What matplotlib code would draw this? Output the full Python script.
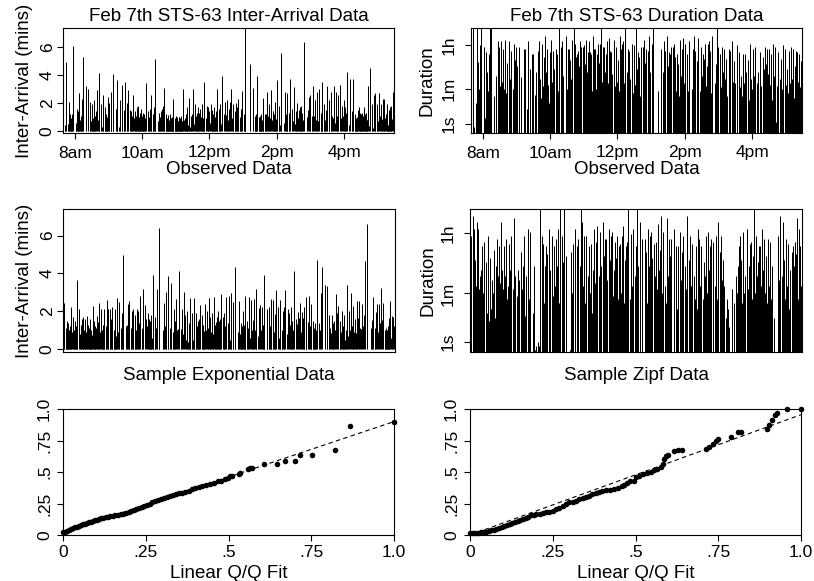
import numpy as np
import matplotlib
matplotlib.use("Agg")
import matplotlib.pyplot as plt

plt.rcParams['font.family'] = ['Liberation Sans', 'DejaVu Sans']

# ---------------- data ----------------
# Observed inter-arrival times (minutes), in arrival order
obs_interarrival = [
    3.5, 0.3, 0.4,
    4.95, 0.5, 0.45,
    2.1, 0.4, 1.2, 0.2, 0.9, 0.6, 1.2,
    6.1, 0.6, 0.4,
    1.6, 0.2, 1.4, 0.5, 0.3, 2.7, 0.8, 0.4, 1.1, 0.6, 2.3,
    5.3,
    3.2,
    3.0, 0.4,
    2.1, 0.7, 0.3, 1.9, 0.5, 0.9, 0.2, 2.2, 0.6, 1.1, 1.4,
    2.95, 0.8, 0.45,
    4.15, 1.9, 0.3, 1.35,
    2.6, 0.5, 1.7, 0.4, 1.2, 0.3, 1.0,
    2.45, 0.6, 2.0, 0.95,
    2.8, 0.9, 0.5,
    4.1, 1.6, 0.2, 1.2,
    3.65, 0.3, 1.3, 2.2, 0.25,
    3.3, 1.5, 1.2,
    3.5, 0.4, 2.0,
    2.95, 1.5, 0.6, 1.4, 0.3, 1.05,
    2.6, 0.9, 1.4, 0.2, 1.1, 0.9,
    1.75, 0.3, 1.8, 0.6, 1.0, 0.55,
    1.3, 1.6, 0.4, 1.1, 0.9, 0.2, 1.3, 0.7, 1.2, 0.5, 0.9,
    3.45, 0.9, 1.4, 0.3, 1.0, 1.6, 0.85,
    2.6, 1.2, 0.4, 0.9, 1.7, 0.9,
    5.2, 0.7, 1.3, 0.4, 1.0, 0.9,
    1.4, 1.6, 0.3, 1.8, 0.9,
    3.05, 0.6, 1.2, 0.5, 0.9, 0.35, 1.1,
    1.15, 0.8, 0.3, 1.2, 0.7, 0.5, 0.9, 0.4, 1.0, 0.6, 0.75, 0.7,
    2.3, 0.5, 0.9, 0.3, 1.1, 0.6, 0.8, 0.4, 1.0, 0.7, 0.5, 1.0,
    1.0, 0.6, 0.9, 0.4, 0.8, 1.1, 0.5, 0.7, 0.5,
    3.0, 0.8, 0.3, 0.9, 1.2, 0.5, 0.5,
    1.25, 1.7, 0.4, 0.8, 2.4, 0.3, 0.9, 1.1, 0.6, 1.25,
    3.0, 0.5, 1.9, 0.4, 1.1, 0.7, 1.3,
    1.75, 1.3, 0.6, 1.6, 0.4, 1.0, 0.8, 1.9, 0.5, 0.9, 0.55,
    3.55, 0.9, 1.8, 0.4, 1.05,
    1.75, 1.4, 0.6, 1.9, 0.8, 1.5, 0.3, 1.2, 0.9, 1.7, 0.5, 1.0, 1.4, 0.6, 0.55,
    3.0, 1.6, 0.7, 1.9, 0.5,
    3.95, 1.2, 2.1, 0.6, 1.15,
    2.2, 0.8, 1.6, 0.4, 2.1,
    3.0, 0.9, 0.9,
    1.95, 1.4, 0.6, 2.0, 0.8, 1.7, 0.4, 2.3, 1.0, 0.5, 1.6, 0.9, 2.9, 0.7, 1.2, 0.5, 0.35,
    9.0,
    4.8,
    3.1, 0.5, 1.1, 0.3, 1.2, 0.8,
    3.95, 0.6, 1.0, 0.3, 1.1, 0.9, 0.4, 1.2, 0.8, 1.0, 0.65,
    2.4, 0.7, 1.2, 0.5, 1.2,
    2.8, 1.1, 0.4, 1.9, 0.9,
    2.95, 0.8, 1.4, 0.3, 1.2, 0.6, 2.1, 0.5, 0.85,
    3.65, 0.9, 1.8, 0.4, 0.95,
    5.6, 0.6, 2.8, 0.3, 1.2, 0.8,
    2.7, 0.8, 1.3,
    3.7, 1.6, 0.7,
    3.15, 0.5, 1.4, 0.9, 2.0, 0.95,
    1.5, 0.8, 1.7, 0.4, 1.8, 0.6, 1.3, 0.8,
    6.4, 1.0, 1.5,
    2.45, 0.6, 2.6, 0.5, 1.05,
    3.25, 1.1, 2.2, 0.4, 0.75,
    2.8, 0.7, 3.0, 0.5, 1.3, 0.6,
    3.5, 0.4, 1.9, 0.8, 1.5, 0.9,
    3.2, 1.2, 2.2, 0.5,
    2.8, 1.1, 0.9,
    3.2, 0.6, 2.8, 0.4, 1.1, 2.6,
    3.3, 0.9, 1.8, 1.1,
    2.2, 0.8, 1.7, 1.3,
    4.25, 0.45,
    3.7, 1.4, 0.9,
    3.7, 0.5, 1.2, 0.3, 0.9, 0.2, 1.0, 0.8, 1.5,
    1.75, 1.3, 0.4, 1.2, 0.9, 1.3, 0.6, 1.1, 0.35,
    1.75, 0.9, 1.2, 0.4, 1.3, 0.8, 0.75,
    3.25, 0.35,
    4.5, 0.6, 1.9, 0.2,
    2.6, 0.4, 2.7, 0.6, 1.9, 0.7,
    2.75, 1.1, 1.9, 0.5, 0.85,
    2.3, 0.6, 2.3, 0.9, 1.2, 0.5,
    1.9, 0.3, 0.2, 0.4, 1.5, 0.9, 0.7,
    1.75, 0.4, 1.8, 0.85,
    2.8, 0.5, 0.4, 0.3,
]

# Observed connection durations (seconds), one per observed arrival
obs_duration = [
    40, 20000, 20,
    0.5, 15, 560,
    20000, 28, 760, 60, 0.3, 15, 3600,
    20000, 5, 3000,
    3, 40, 1800, 8, 12, 300, 50, 25, 1500, 9, 20000,
    20000,
    30,
    200, 5000,
    15, 3000, 80, 6, 500, 5000, 30, 120, 4, 2500, 60,
    6000, 40, 700,
    20, 5000, 150, 8,
    2000, 60, 12, 4000, 30, 900, 6,
    3000, 25, 500, 70,
    3000, 10, 180,
    40, 2400, 90, 15,
    2500, 8, 5000, 60, 400,
    20, 1500, 100,
    1500, 35, 6,
    300, 2000, 12, 5000, 50, 150,
    25, 4000, 80, 10, 1200, 40,
    8000, 5, 300, 60, 2500, 20,
    90, 15, 1800, 40, 700, 8, 6000, 120, 30, 2000, 60,
    400, 25, 2400, 90, 1500, 50, 20000,
    70, 3000, 15, 800, 5000, 35,
    200, 8000, 60, 40, 2500, 100,
    2400, 20, 900, 150, 6000,
    50, 20000, 300, 25, 4000, 80, 1200,
    15, 1500, 100, 40, 2000, 60, 500, 5000, 30, 150, 3000, 70,
    1000, 25, 3000, 200, 45, 3500, 90, 600, 12, 6000, 80, 300,
    40, 1800, 150, 20, 5000, 60, 1800, 100, 30,
    1500, 50, 400, 8000, 80, 2500, 35,
    200, 2400, 60, 1500, 25, 4000, 90, 700, 4000, 45,
    20000, 120, 3000, 50, 3000, 300, 70,
    1500, 40, 5000, 100, 600, 7000, 30, 2000, 150, 1800, 60,
    250, 6000, 80, 3000, 40,
    1500, 120, 900, 50, 8000, 200, 2500, 60, 4000, 30, 800, 5000, 100, 1500, 45,
    20000, 300, 2400, 80, 2000,
    150, 4000, 40, 3500, 700,
    90, 20000, 400, 60, 1800,
    1200, 30, 3000,
    200, 3000, 50, 6000, 100, 700, 40, 2400, 150, 2000, 70, 8000, 300, 25, 4000, 90, 20000,
    900,
    50,
    2400, 80, 300, 40, 5000, 150,
    2000, 60, 8000, 100, 500, 35, 1800, 200, 1500, 70, 3000,
    90, 3000, 40, 4000, 250,
    1200, 50, 1500, 150, 600,
    30, 6000, 200, 2500, 60, 800, 7000, 100, 40,
    4000, 120, 1500, 50, 5000,
    300, 60, 2400, 200, 8000, 40,
    2000, 100, 800,
    7000, 50, 3000,
    200, 1500, 60, 1000, 4000, 80,
    500, 30, 4000, 150, 5000, 70, 2000, 40,
    8000, 100, 600,
    20000, 50, 3000, 200, 1500,
    70, 3000, 300, 40, 2500,
    150, 1000, 30, 2400, 90, 400,
    2000, 60, 5000, 120, 25, 800,
    100, 3500, 40, 500,
    1800, 70, 200,
    30, 1500, 100, 1500, 50, 300,
    900, 20, 4000, 150,
    60, 2500, 40, 200,
    3000, 100,
    300, 30, 1800,
    80, 1200, 20, 400, 60, 3000, 150, 10, 600,
    2500, 40, 250, 8, 2400, 90, 30, 1500, 100,
    20, 700, 4000, 60, 200, 15, 3000,
    1.5, 80,
    1800, 150, 30, 1000,
    60, 3500, 200, 20, 2400, 90,
    400, 40, 2000, 100, 8,
    3000, 150, 50, 2400, 25, 500,
    90, 2000, 30, 400, 60, 1800, 120,
    40, 300, 1500, 70,
    800, 20, 3000, 10,
]

# Sample exponential inter-arrival times (minutes)
exp_interarrival = [
    0.6, 1.2,
    2.45, 1.1, 0.3, 1.5, 0.8, 0.2, 1.4, 0.5, 1.0, 0.7, 1.2, 0.75,
    2.2, 0.9, 1.7, 0.4, 1.0, 0.6, 1.5, 0.3, 1.2, 0.9,
    3.65,
    2.1, 0.8, 1.3, 0.5, 1.6, 0.4, 0.85,
    1.7, 1.0, 0.5, 1.6, 0.9, 1.5,
    1.75, 1.3, 0.4, 1.1, 0.8, 1.6, 0.2, 1.0, 0.6, 0.75,
    2.3, 0.7, 1.5, 0.3, 1.2, 1.1,
    1.75, 1.0, 1.45,
    2.45, 0.9, 2.1, 0.4, 1.0, 0.6, 1.3, 0.75,
    2.1, 1.2, 0.8,
    2.6, 0.5, 2.1, 0.8,
    2.1, 1.6, 0.3, 2.2, 0.9, 1.0, 0.5, 2.1, 0.4, 0.7,
    2.7, 0.9, 1.2,
    2.5, 1.1, 0.4, 1.9, 1.2,
    4.95, 1.2, 0.3, 1.25,
    2.4, 0.6,
    2.55, 0.8, 1.1, 2.0, 0.65,
    2.1, 0.5, 1.8, 0.6, 1.0,
    2.1, 2.0, 0.4, 1.4,
    2.8, 1.1, 0.9,
    3.15,
    2.35, 1.6, 1.2,
    1.9, 0.4, 1.6, 0.9, 1.5, 0.3, 1.8, 0.6, 0.5,
    3.9, 0.4, 1.7, 1.1,
    3.2, 0.6, 0.4,
    6.4, 0.3, 1.0,
    2.45, 1.2, 0.55,
    3.0, 0.6,
    3.85, 1.1, 0.35,
    3.5, 0.9, 0.3, 2.1, 0.6, 1.5,
    2.65, 1.0, 1.05,
    4.15, 0.8, 1.05,
    2.1, 0.8,
    3.0, 1.8, 0.5, 1.1, 2.0, 0.4, 1.4, 0.7, 1.0,
    2.7, 0.9, 1.9, 0.5, 1.1,
    2.7, 0.6, 1.9, 1.2, 0.4, 1.5, 0.8, 1.6,
    2.35, 1.8, 0.5, 1.3, 0.9, 0.95,
    2.4, 1.0, 2.0, 0.6, 1.1,
    2.7, 0.5, 1.7, 0.9, 1.9, 0.4, 0.8,
    2.75, 1.3, 0.4, 1.45,
    1.7, 2.0, 0.7, 1.5, 0.3, 1.6,
    2.9, 1.7, 0.6, 1.9, 1.2,
    2.75, 1.4, 0.55,
    2.8, 0.5, 0.9,
    2.95, 1.1, 2.5, 1.15,
    4.35, 0.9, 0.75,
    2.55, 0.8, 1.4, 0.3, 1.2, 0.6, 2.0, 0.5, 1.3, 1.15,
    2.8, 1.5, 0.6, 1.1,
    2.75, 0.6, 2.6, 1.0, 0.4, 1.55,
    2.65, 1.0, 1.05,
    3.15, 0.7, 2.15,
    2.35, 1.0, 2.2, 0.6, 1.3, 0.85,
    3.9, 1.3, 2.1, 0.4,
    2.2, 1.2, 0.8,
    2.65, 0.5, 2.6, 0.9, 1.0, 1.85,
    3.1, 2.2, 0.6, 1.2,
    2.6, 0.4, 1.0, 2.0, 0.7, 2.2,
    3.1, 0.8, 2.1,
    1.9, 1.3, 0.6, 2.2, 0.4, 1.5, 1.0,
    4.15, 1.6, 1.35,
    1.95, 1.65,
    2.45, 0.9, 1.95, 0.5, 1.65, 0.8, 2.2, 0.6, 0.75,
    2.75, 1.45,
    2.8, 1.2, 0.4, 2.4, 0.9, 1.5, 0.3, 1.1, 0.7, 1.4, 1.0,
    4.7, 1.4, 1.0,
    2.95,
    4.35,
    3.4, 1.2,
    3.35, 0.6, 1.8, 1.1, 0.85,
    1.8, 1.0, 0.4, 1.4, 1.5, 1.0,
    2.9, 1.9,
    2.3, 1.0, 0.6, 1.5, 0.9, 2.0, 0.4, 1.2, 0.8, 1.8, 0.5, 1.0, 0.8,
    3.4, 0.7, 2.0, 1.0,
    2.95, 1.2, 0.5, 2.3, 0.9, 1.6, 0.4, 0.85,
    2.55, 1.65,
    2.55, 1.1, 1.05,
    2.4, 1.2, 1.8,
    4.65,
    6.6, 1.1, 0.9, 1.55,
    2.75, 0.8, 1.1, 1.95,
    2.4, 0.9, 2.4, 1.4,
    3.25, 1.55,
    2.45, 1.0, 0.6, 1.1, 0.9, 0.5, 1.0, 0.8, 1.2, 0.7, 1.65,
    2.55, 0.6, 1.0, 1.75,
    1.7, 1.2, 1.1,
]

# Sample Zipf durations (seconds), one per sample arrival
zipf_duration = [
    300, 1000,
    3000, 20, 12000, 200, 5000, 50, 600, 3, 100, 8000, 30, 400,
    5000, 80, 200, 5, 300, 40, 1500, 10, 60, 2000,
    150,
    500, 15, 120, 3000, 8, 40, 250,
    700, 20, 150, 2, 60, 1200,
    90, 10, 400, 30, 2500, 5, 200, 40, 1500, 15,
    120, 8000, 30, 300, 8, 80,
    1500, 20, 200,
    2400, 40, 100, 1800, 12, 300, 25, 60,
    3000, 15, 80,
    10000, 30, 200, 10,
    50, 300, 5, 150, 1000, 20, 80, 8, 400, 30,
    3000, 12, 60,
    200, 20, 5000, 40, 100,
    4000, 15, 400, 1.5,
    0, 0.5,
    0, 0, 1.0, 0.5, 20000,
    40, 3000, 8, 200, 1800,
    30, 400, 1500, 80,
    900, 20, 5000,
    300,
    3000, 50, 1500,
    100, 2400, 15, 400, 60, 5000, 200, 30, 2000,
    20000, 80, 3000, 500,
    20000, 40, 800,
    2, 0, 0,
    1000, 60, 1800,
    300, 5000,
    40, 1500, 200,
    2400, 20, 400, 20000, 50, 8000,
    100, 3000, 30,
    3000, 200, 20,
    1500, 60,
    1800, 15, 300, 40, 5000, 120, 2000, 8, 500,
    6000, 30, 200, 4000, 60,
    400, 8000, 20, 800, 100, 2400, 40, 2500,
    150, 5000, 30, 600, 3000, 80,
    4000, 50, 300, 2000, 20,
    700, 100, 3000, 40, 1500, 250, 1800,
    60, 3000, 400, 6000,
    30, 600, 150, 1500, 80, 2000,
    20000, 40, 500, 3500, 100,
    5000, 200, 60,
    1500, 20000, 30,
    400, 8000, 80, 2500,
    200, 2400, 50,
    1000, 30, 5000, 150, 400, 20, 3000, 100, 4000, 60,
    700, 1800, 40, 200,
    2000, 80, 7000, 300, 20, 1200,
    12000, 60, 500,
    4000, 100, 30,
    10000, 200, 2500, 40, 800, 2400,
    100, 5000, 300, 50,
    1500, 20, 1500,
    300, 60, 4000, 150, 1000, 30,
    3000, 400, 80, 2000,
    12000, 50, 600, 3000, 100, 20,
    1800, 200, 40,
    1500, 20, 5000, 300, 60, 2500, 100,
    1500, 40, 500,
    200, 3000,
    60, 4000, 300, 30, 1500, 80, 2400, 20, 400,
    2000, 100,
    3000, 40, 500, 8000, 60, 1000, 20, 3000, 150, 30, 600,
    100, 10, 40,
    20,
    5,
    80, 3,
    30, 200, 8, 60, 400,
    1500, 20, 3000, 100, 600, 30,
    4000, 60,
    200, 5000, 30, 1000, 80, 400, 1800, 15, 300, 2000, 40, 150, 800,
    20000, 60, 3000, 200,
    500, 1500, 40, 1500, 100, 5000, 20, 300,
    2500, 60,
    800, 30, 2400,
    100, 2000, 40,
    400,
    10, 3000, 150, 50,
    12000, 200, 30, 8000,
    600, 40, 2500, 100,
    1800, 20,
    300, 1000, 30, 1500, 80, 400, 15, 2000, 150, 60, 900,
    10000, 40, 5000, 300,
    1500, 100, 2400,
]

# Q/Q points
qq_exp_x = [0.000, 0.006, 0.012, 0.018, 0.024, 0.030, 0.036, 0.042, 0.048, 0.054,
            0.060, 0.066, 0.072, 0.078, 0.084, 0.090, 0.096, 0.102, 0.108, 0.115,
            0.122, 0.129, 0.136, 0.143, 0.150, 0.158, 0.166, 0.174, 0.182, 0.190,
            0.198, 0.206, 0.214, 0.222, 0.230, 0.238, 0.246, 0.254, 0.262, 0.270,
            0.278, 0.286, 0.295, 0.304, 0.313, 0.322, 0.331, 0.340, 0.350, 0.360,
            0.370, 0.380, 0.390, 0.400, 0.410, 0.420, 0.432, 0.444, 0.456, 0.468,
            0.478, 0.488, 0.498, 0.505, 0.512, 0.532, 0.535, 0.560, 0.566, 0.572,
            0.606, 0.646, 0.672, 0.702, 0.717, 0.753, 0.823, 0.866, 1.000]
qq_exp_y = [0.020, 0.027, 0.034, 0.041, 0.047, 0.054, 0.060, 0.066, 0.072, 0.078,
            0.084, 0.090, 0.096, 0.101, 0.107, 0.112, 0.117, 0.122, 0.126, 0.131,
            0.135, 0.139, 0.143, 0.147, 0.151, 0.155, 0.159, 0.164, 0.169, 0.175,
            0.182, 0.190, 0.198, 0.206, 0.214, 0.222, 0.230, 0.238, 0.248, 0.258,
            0.268, 0.277, 0.286, 0.293, 0.300, 0.310, 0.318, 0.325, 0.330, 0.335,
            0.343, 0.352, 0.362, 0.372, 0.380, 0.385, 0.395, 0.405, 0.412, 0.425,
            0.432, 0.442, 0.455, 0.465, 0.472, 0.485, 0.495, 0.520, 0.528, 0.532,
            0.560, 0.560, 0.590, 0.585, 0.635, 0.635, 0.675, 0.862, 0.900]
qq_zipf_x = [0.000, 0.008, 0.016, 0.024, 0.032, 0.040, 0.048, 0.056, 0.064, 0.072,
             0.080, 0.088, 0.096, 0.104, 0.112, 0.120, 0.128, 0.136, 0.144, 0.152,
             0.160, 0.168, 0.176, 0.184, 0.192, 0.200, 0.210, 0.220, 0.230, 0.240,
             0.250, 0.260, 0.270, 0.280, 0.290, 0.300, 0.310, 0.320, 0.330, 0.340,
             0.350, 0.360, 0.370, 0.380, 0.390, 0.400, 0.412, 0.424, 0.436, 0.448,
             0.458, 0.466, 0.474, 0.482, 0.494, 0.503, 0.510, 0.522, 0.534, 0.546,
             0.556, 0.566, 0.576, 0.584, 0.587, 0.592, 0.598, 0.615, 0.628, 0.640,
             0.712, 0.722, 0.734, 0.742, 0.750, 0.788, 0.810, 0.820, 0.898, 0.904,
             0.912, 0.920, 0.928, 0.957, 1.000]
qq_zipf_y = [0.012, 0.014, 0.016, 0.018, 0.021, 0.024, 0.027, 0.031, 0.036, 0.042,
             0.048, 0.056, 0.064, 0.072, 0.080, 0.088, 0.096, 0.104, 0.112, 0.118,
             0.124, 0.132, 0.145, 0.155, 0.160, 0.163, 0.165, 0.172, 0.180, 0.186,
             0.192, 0.205, 0.218, 0.232, 0.248, 0.258, 0.262, 0.272, 0.285, 0.295,
             0.303, 0.312, 0.322, 0.330, 0.340, 0.350, 0.356, 0.358, 0.362, 0.372,
             0.385, 0.400, 0.412, 0.425, 0.430, 0.462, 0.470, 0.485, 0.492, 0.500,
             0.512, 0.525, 0.540, 0.560, 0.600, 0.625, 0.636, 0.670, 0.672, 0.672,
             0.682, 0.700, 0.720, 0.745, 0.760, 0.775, 0.815, 0.820, 0.840, 0.870,
             0.910, 0.950, 0.965, 1.000, 1.000]
qq_exp_fit = [0.02, 0.90]     # fitted line values at x=0 and x=1
qq_zipf_fit = [0.0, 0.955]

# axis labels / ticks
hour_ticks = [8, 10, 12, 14, 16]
hour_labels = ['8am', '10am', '12pm', '2pm', '4pm']
ia_ticks = [0, 2, 4, 6]
dur_ticks = [1, 60, 3600]
dur_labels = ['1s', '1m', '1h']
qq_ticks = [0, 0.25, 0.5, 0.75, 1.0]
qq_labels = ['0', '.25', '.5', '.75', '1.0']
start_hour = 7.655

assert len(obs_interarrival) == len(obs_duration), (len(obs_interarrival), len(obs_duration))
assert len(exp_interarrival) == len(zipf_duration), (len(exp_interarrival), len(zipf_duration))


def arrival_hours(ia):
    ia = np.asarray(ia, float)
    return start_hour + np.concatenate([[0.0], np.cumsum(ia[:-1])]) / 60.0


def fwd(d):
    return np.log(np.maximum(np.asarray(d, float) + 1.3, 1e-9))


def inv(u):
    return np.exp(np.asarray(u, float)) - 1.3


W, H = 814, 581
fig = plt.figure(figsize=(W / 100, H / 100), dpi=100)


def axes_px(left, top, right, bottom):
    return fig.add_axes([left / W, 1 - bottom / H, (right - left) / W, (bottom - top) / H])


FS = 13.5
TFS = 12.5
LW = 0.72
XLIM = (7.645, 17.485)

ax1 = axes_px(63, 28, 394, 133)
ax2 = axes_px(471, 28, 802, 133)
ax3 = axes_px(63, 209, 395, 352)
ax4 = axes_px(470, 209, 802, 352)
ax5 = axes_px(63, 409, 394, 535)
ax6 = axes_px(470, 409, 801, 535)

for ax in (ax1, ax2, ax3, ax4, ax5, ax6):
    for s in ax.spines.values():
        s.set_linewidth(0.8)
        s.set_color('black')
    ax.tick_params(direction='out', length=4, width=0.8, labelsize=TFS, colors='black')

t_obs = arrival_hours(obs_interarrival)
t_exp = arrival_hours(exp_interarrival)

# --- top-left: observed inter-arrival
ax1.vlines(t_obs, 0, obs_interarrival, color='black', linewidth=LW)
ax1.set_xlim(*XLIM)
ax1.set_ylim(-0.15, 7.4)
ax1.set_xticks(hour_ticks)
ax1.set_xticklabels(hour_labels)
ax1.set_yticks(ia_ticks)
ax1.set_title('Feb 7th STS-63 Inter-Arrival Data', fontsize=FS, pad=5)
ax1.set_xlabel('Observed Data', fontsize=FS)
ax1.set_ylabel('Inter-Arrival (mins)', fontsize=FS)
ax1.xaxis.set_label_coords(0.5, -0.27)
ax1.yaxis.set_label_coords(-0.09, 0.5)
ax1.tick_params(axis='x', pad=5)
ax1.tick_params(axis='y', pad=2)

# --- top-right: observed durations
ax2.set_yscale('function', functions=(fwd, inv))
ybot2, ytop2 = inv(0.02), inv(9.77)
ax2.vlines(t_obs, ybot2, obs_duration, color='black', linewidth=LW)
ax2.set_xlim(*XLIM)
ax2.set_ylim(ybot2, ytop2)
ax2.set_xticks(hour_ticks)
ax2.set_xticklabels(hour_labels)
ax2.set_yticks(dur_ticks)
ax2.set_yticklabels(dur_labels)
ax2.minorticks_off()
ax2.set_title('Feb 7th STS-63 Duration Data', fontsize=FS, pad=5)
ax2.set_xlabel('Observed Data', fontsize=FS)
ax2.set_ylabel('Duration', fontsize=FS)
ax2.xaxis.set_label_coords(0.5, -0.27)
ax2.yaxis.set_label_coords(-0.106, 0.5)
ax2.tick_params(axis='x', pad=5)
ax2.tick_params(axis='y', pad=6)

# --- middle-left: sample exponential
ax3.vlines(t_exp, 0, exp_interarrival, color='black', linewidth=LW)
ax3.set_xlim(*XLIM)
ax3.set_ylim(-0.15, 7.4)
ax3.set_xticks([])
ax3.set_yticks(ia_ticks)
ax3.set_xlabel('Sample Exponential Data', fontsize=FS)
ax3.set_ylabel('Inter-Arrival (mins)', fontsize=FS)
ax3.xaxis.set_label_coords(0.5, -0.105)
ax3.yaxis.set_label_coords(-0.09, 0.5)
ax3.tick_params(axis='y', pad=2)

# --- middle-right: sample Zipf
ax4.set_yscale('function', functions=(fwd, inv))
ybot4, ytop4 = inv(0.15), inv(9.84)
ax4.vlines(t_exp, ybot4, zipf_duration, color='black', linewidth=LW)
ax4.set_xlim(*XLIM)
ax4.set_ylim(ybot4, ytop4)
ax4.set_xticks([])
ax4.set_yticks(dur_ticks)
ax4.set_yticklabels(dur_labels)
ax4.minorticks_off()
ax4.set_xlabel('Sample Zipf Data', fontsize=FS)
ax4.set_ylabel('Duration', fontsize=FS)
ax4.xaxis.set_label_coords(0.5, -0.105)
ax4.yaxis.set_label_coords(-0.102, 0.5)
ax4.tick_params(axis='y', pad=6)

# --- bottom: Q/Q plots
for ax, qx, qy, fit in ((ax5, qq_exp_x, qq_exp_y, qq_exp_fit),
                        (ax6, qq_zipf_x, qq_zipf_y, qq_zipf_fit)):
    ax.plot([0, 1], fit, color='black', linewidth=0.8, linestyle=(0, (4, 3)))
    ax.plot(qx, qy, 'o', color='black', markersize=4, markeredgewidth=0, clip_on=False)
    ax.set_xlim(0, 1)
    ax.set_ylim(0, 1)
    ax.set_xticks(qq_ticks)
    ax.set_xticklabels(qq_labels)
    ax.set_yticks(qq_ticks)
    ax.set_yticklabels(qq_labels)
    ax.set_xlabel('Linear Q/Q Fit', fontsize=FS)
    ax.xaxis.set_label_coords(0.5, -0.235)
    ax.tick_params(axis='x', pad=3)
    ax.tick_params(axis='y', pad=4)

for ax in (ax1, ax2, ax3, ax4, ax5, ax6):
    for lab in ax.get_yticklabels():
        lab.set_rotation(90)
        lab.set_verticalalignment('center')
        lab.set_horizontalalignment('right')

fig.savefig('out.png', dpi=100)
